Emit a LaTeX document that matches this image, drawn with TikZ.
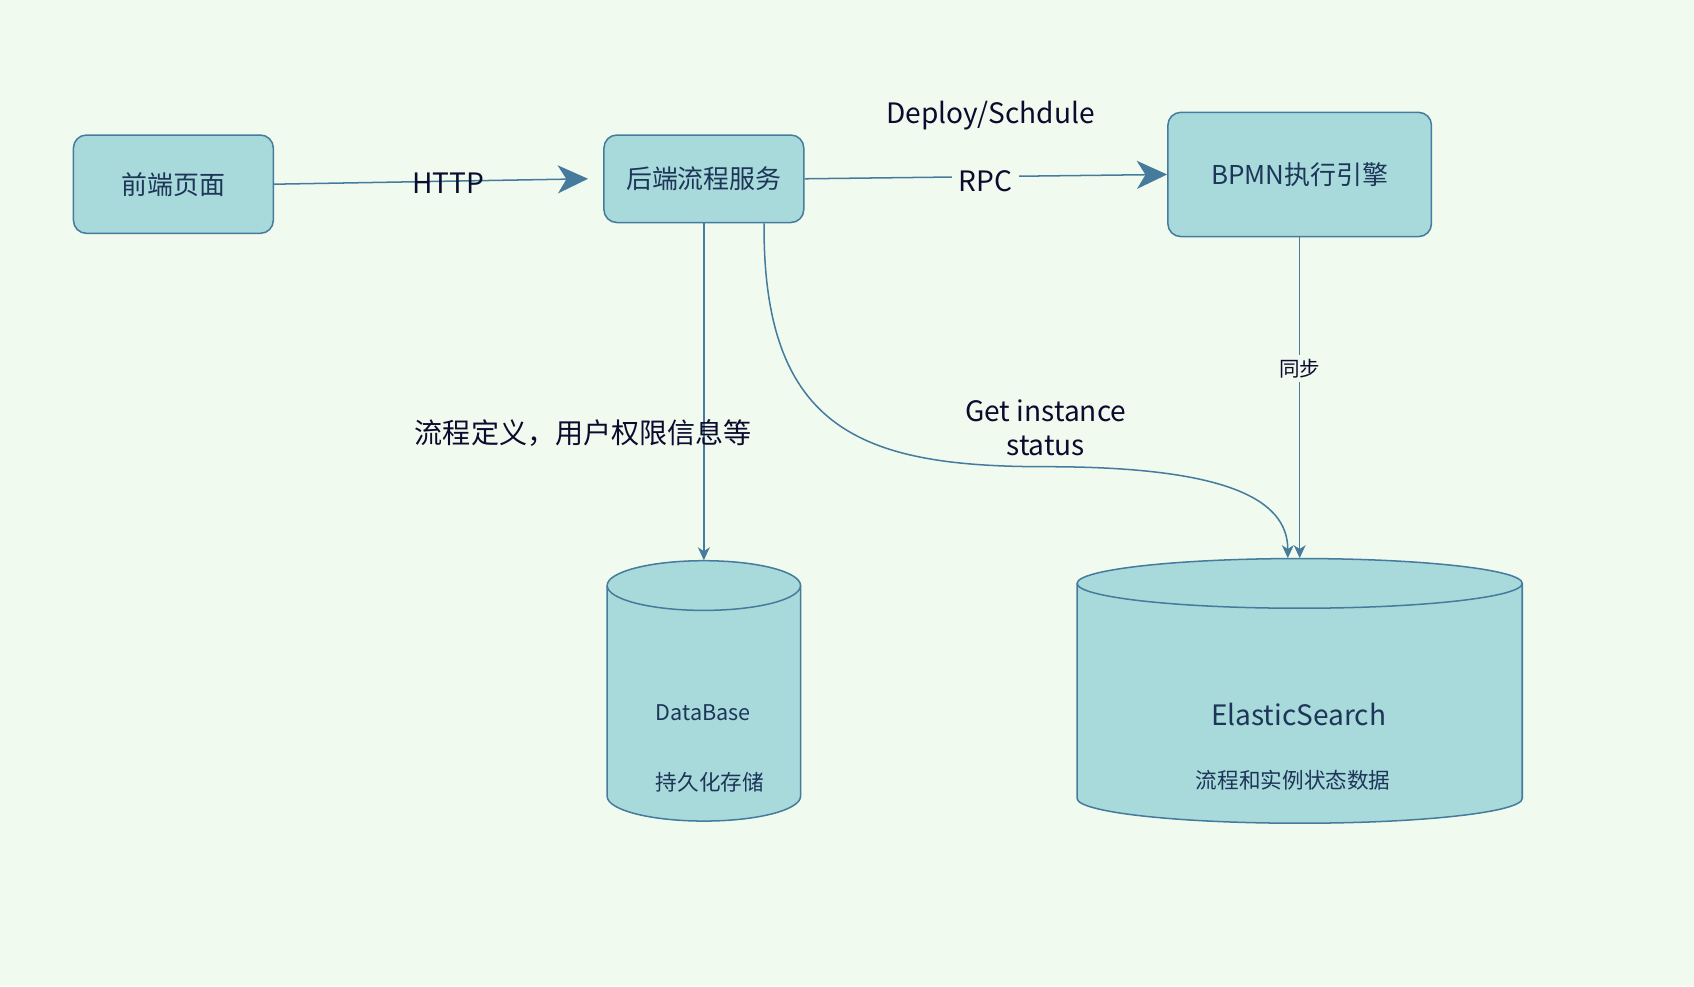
\documentclass[tikz,border=0pt]{standalone}
\usepackage{fontspec}
\setmainfont{Noto Sans CJK SC}
\usetikzlibrary{arrows.meta}
\definecolor{bg}{HTML}{F1FAEE}
\definecolor{boxfill}{HTML}{A8DADC}
\definecolor{boxline}{HTML}{457B9D}
\definecolor{boxtext}{HTML}{1D3557}
\definecolor{lbltext}{HTML}{0B0B2E}
\begin{document}
\begin{tikzpicture}[x=0.5pt,y=0.5pt,
  proc/.style={draw=boxline, fill=boxfill, rounded corners=6pt, line width=0.7pt,
    text=boxtext, font=\fontsize{12}{14}\selectfont, inner sep=0pt},
  conn/.style={draw=boxline, line width=0.7pt},
  bigtip/.style={-{Stealth[length=14pt,width=13pt,inset=4pt]}},
  smalltip/.style={-{Stealth[length=6pt,width=5.5pt,inset=1.8pt]}},
  lbl/.style={text=lbltext, font=\fontsize{13}{16}\selectfont, inner sep=1pt},
  cyltext/.style={text=boxtext, font=\fontsize{10}{12}\selectfont, inner sep=0pt},
  cylshape/.style={draw=boxline, fill=boxfill, line width=0.7pt},
  anchorbox/.style={draw=none, inner sep=0pt},
]
% background
\fill[bg] (0,0) rectangle (1568,-913);
\useasboundingbox (0,0) rectangle (1568,-913);

% boxes
\node[proc, minimum width=92.5pt, minimum height=45.5pt] (A) at (160.5,-170.5) {前端页面};
\node[proc, minimum width=92.5pt, minimum height=40.5pt] (B) at (651.5,-165.5) {后端流程服务};
\node[proc, minimum width=122pt, minimum height=57.5pt] (C) at (1203,-161.5) {BPMN执行引擎};

% cylinders
\draw[cylshape] (562,-542) -- (562,-737)
  arc[start angle=180,end angle=360,x radius=44.75pt,y radius=11.5pt]
  -- (741,-542)
  arc[start angle=0,end angle=180,x radius=44.75pt,y radius=11.5pt] -- cycle;
\draw[boxline, line width=0.7pt] (562,-542)
  arc[start angle=180,end angle=360,x radius=44.75pt,y radius=11.5pt];
\node[anchorbox, minimum width=89.5pt, minimum height=120.5pt] (DB) at (651.5,-639.5) {};
\node[cyltext] (DBt1) at (651,-660) {DataBase};
\node[cyltext] (DBt2) at (657,-724) {持久化存储};

\draw[cylshape] (997,-540) -- (997,-739)
  arc[start angle=180,end angle=360,x radius=103pt,y radius=11.5pt]
  -- (1409,-540)
  arc[start angle=0,end angle=180,x radius=103pt,y radius=11.5pt] -- cycle;
\draw[boxline, line width=0.7pt] (997,-540)
  arc[start angle=180,end angle=360,x radius=103pt,y radius=11.5pt];
\node[anchorbox, minimum width=206pt, minimum height=122.5pt] (ES) at (1203,-639.5) {};
\node[cyltext, font=\fontsize{13}{15}\selectfont] (ESt1) at (1202,-661) {ElasticSearch};
\node[cyltext] (ESt2) at (1197,-722) {流程和实例状态数据};

% connectors
\draw[conn, bigtip] (A.east) -- ([xshift=-7pt]B.west);
\node[lbl] (http) at (415,-170) {HTTP};

\draw[conn, bigtip] (B.east) -- (C.west);
\node[lbl, fill=bg, inner sep=3pt] (rpc) at (912,-168) {RPC};
\node[lbl] (deploy) at (917,-107) {Deploy/Schdule};

\draw[conn, smalltip] (B.south) -- (DB.north);
\node[lbl] (dbl) at (540,-401) {流程定义，用户权限信息等};

\draw[conn, smalltip] ([xshift=-18.75pt]B.south east)
  .. controls (706,-400) and (800,-432) .. (968,-432)
  .. controls (1135,-432) and (1192,-462) .. ([xshift=-5.5pt]ES.north);
\node[lbl, align=center] (gis) at (968,-396) {Get instance\\status};

\draw[conn, smalltip] (C.south) -- (ES.north);
\node[lbl, fill=bg, inner sep=2pt, font=\fontsize{9.5}{11}\selectfont] (sync) at (1203,-341) {同步};
\end{tikzpicture}
\end{document}
